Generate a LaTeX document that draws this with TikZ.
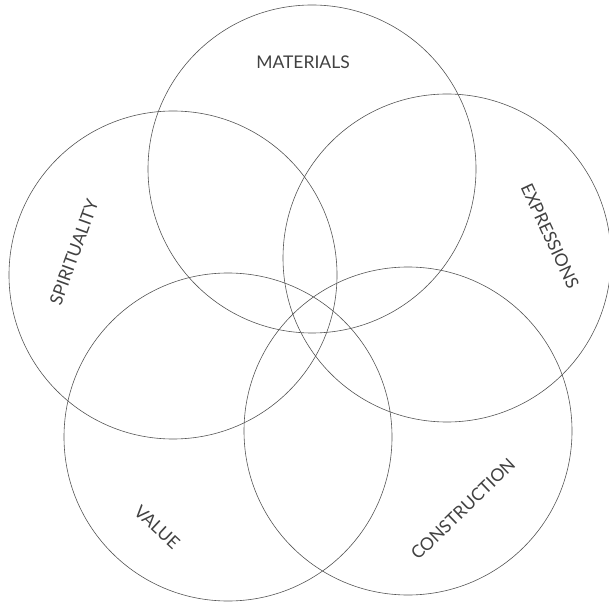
\documentclass[tikz,border=0pt]{standalone}
\usepackage{fontspec}
\setmainfont{Lato}
\definecolor{vnline}{RGB}{85,85,85}
\definecolor{vntext}{RGB}{65,65,65}
\tikzset{
  ring/.style={draw=vnline, line width=0.6pt, circle, minimum size=328pt, inner sep=0pt},
  lab/.style={font=\fontsize{17.5}{18}\selectfont, text=vntext, inner sep=0pt}
}
\begin{document}
\begin{tikzpicture}[x=1pt, y=1pt]
  \useasboundingbox (0,0) rectangle (609,605);
  % the five rings
  \node[ring] (mat) at (312,436) {};
  \node[ring] (spi) at (173,330) {};
  \node[ring] (exp) at (447,347) {};
  \node[ring] (val) at (228,168) {};
  \node[ring] (con) at (408,174) {};
  % labels
  \node[lab]             (tmat) at (303,543) {MATERIALS};
  \node[lab, rotate=70]  (tspi) at (74,353)  {SPIRITUALITY};
  \node[lab, rotate=-65] (texp) at (550,369) {EXPRESSIONS};
  \node[lab, rotate=-43] (tval) at (157,78)  {VALUE};
  \node[lab, rotate=44]  (tcon) at (463,96)  {CONSTRUCTION};
\end{tikzpicture}
\end{document}
